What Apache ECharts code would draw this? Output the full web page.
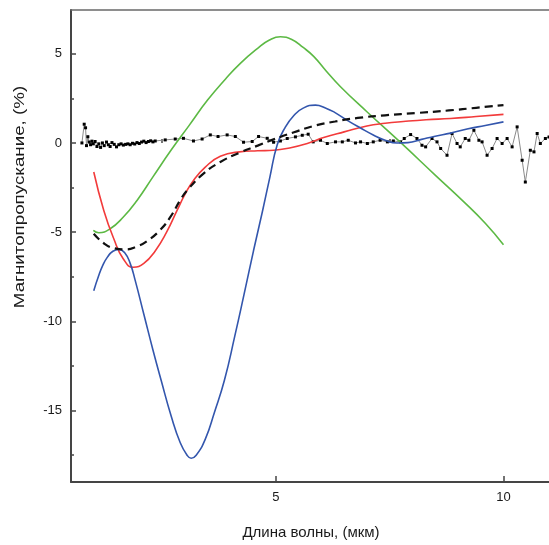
<!DOCTYPE html>
<html>
<head>
<meta charset="utf-8">
<script src="https://cdn.jsdelivr.net/npm/echarts@6/dist/echarts.min.js"></script>
<style>
  html, body { margin: 0; padding: 0; background: #fff; overflow: hidden; }
  #chart { width: 549px; height: 545px; }
</style>
</head>
<body>
<div id="chart"></div>
<script>
// ---- data (x: wavelength, µm; y: magnetotransmission, %) ----
const xMajorTicks = [5, 10];
const xMinorTicks = [2.5, 7.5];
const yMajorTicks = [-15, -10, -5, 0, 5];
const yMinorTicks = [-17.5, -12.5, -7.5, -2.5, 2.5];

const xTitle = 'Длина волны, (мкм)';
const yTitle = 'Магнитопропускание, (%)';

const greenCurve = [
  [0.99,-4.9],[1.11,-5.03],[1.36,-4.81],[1.65,-4.15],[1.95,-3.22],[2.3,-1.9],[2.7,-0.4],
  [3.1,1.0],[3.5,2.4],[3.9,3.6],[4.22,4.46],[4.6,5.3],[4.85,5.75],[5.1,5.95],[5.35,5.8],
  [5.6,5.35],[5.83,4.85],[6.1,4.05],[6.42,3.15],[7.0,1.75],[7.75,0.0],[8.5,-1.8],
  [9.13,-3.3],[9.6,-4.5],[10.0,-5.7]
];

const blueCurve = [
  [1.0,-8.28],[1.1,-7.5],[1.2,-6.85],[1.3,-6.4],[1.42,-6.07],[1.55,-5.97],[1.68,-6.15],
  [1.8,-6.75],[1.91,-7.7],[2.1,-9.6],[2.3,-11.6],[2.48,-13.3],[2.7,-15.3],[2.9,-16.8],
  [3.05,-17.5],[3.14,-17.67],[3.25,-17.5],[3.45,-16.6],[3.65,-15.1],[3.87,-13.3],
  [4.1,-10.8],[4.3,-8.5],[4.51,-6.03],[4.7,-3.9],[4.87,-1.9],[5.03,-0.1],[5.2,0.85],
  [5.4,1.55],[5.6,1.95],[5.87,2.12],[6.1,1.95],[6.3,1.7],[6.56,1.28],[6.85,0.85],
  [7.15,0.43],[7.4,0.15],[7.66,0.0],[7.9,0.02],[8.2,0.2],[8.5,0.38],[8.84,0.55],
  [9.2,0.78],[9.6,0.98],[10.0,1.18]
];

const redCurve = [
  [1.0,-1.63],[1.22,-3.78],[1.44,-5.37],[1.65,-6.5],[1.87,-6.97],[2.1,-6.75],[2.35,-6.05],
  [2.6,-5.0],[2.83,-3.78],[3.0,-2.9],[3.19,-2.1],[3.45,-1.35],[3.78,-0.75],[4.2,-0.5],
  [4.6,-0.44],[4.95,-0.41],[5.3,-0.28],[5.69,-0.03],[6.05,0.3],[6.5,0.62],[7.0,0.95],
  [7.4,1.1],[7.8,1.2],[8.3,1.3],[8.84,1.37],[9.4,1.48],[10.0,1.6]
];

const dashedCurve = [
  [1.0,-5.09],[1.22,-5.62],[1.45,-5.9],[1.69,-5.97],[1.95,-5.8],[2.17,-5.5],[2.45,-4.9],
  [2.68,-4.16],[2.9,-3.2],[3.05,-2.66],[3.41,-1.72],[3.78,-1.07],[4.2,-0.55],[4.6,-0.15],
  [4.95,0.2],[5.4,0.6],[5.83,0.95],[6.3,1.2],[6.8,1.4],[7.4,1.55],[8.1,1.68],[8.8,1.82],
  [9.4,1.97],[10.0,2.12]
];

const measured = [
  [0.74,0.0],[0.79,1.05],[0.82,0.85],[0.84,-0.15],[0.87,0.35],[0.90,0.05],[0.93,-0.1],
  [0.96,0.1],[0.99,-0.05],[1.03,0.08],[1.07,-0.2],[1.11,-0.05],[1.15,-0.25],[1.19,0.0],
  [1.23,-0.15],[1.28,0.05],[1.32,-0.1],[1.36,-0.2],[1.40,0.02],[1.45,-0.08],[1.50,-0.22],
  [1.55,-0.1],[1.60,-0.05],[1.65,-0.12],[1.70,-0.08],[1.75,-0.05],[1.80,-0.1],[1.85,-0.02],
  [1.90,-0.06],[1.95,0.02],[2.00,-0.03],[2.05,0.05],[2.10,0.1],[2.15,0.02],[2.20,0.08],
  [2.25,0.12],[2.30,0.06],
  [2.35,0.11],[2.57,0.17],[2.79,0.22],[2.97,0.26],[3.19,0.11],[3.38,0.22],[3.56,0.45],
  [3.73,0.36],[3.93,0.45],[4.11,0.36],[4.29,0.04],[4.48,0.08],[4.62,0.36],[4.81,0.26],
  [4.95,0.04],[5.1,0.11],[5.25,0.25],[5.43,0.34],[5.58,0.43],[5.71,0.49],[5.82,0.06],
  [5.98,0.15],[6.13,-0.03],[6.31,0.06],[6.46,0.06],[6.59,0.15],[6.75,0.0],[6.86,0.06],
  [7.01,-0.03],[7.14,0.06],[7.29,0.15],[7.45,0.06],[7.58,0.11],[7.74,0.06],
  [7.82,0.25],[7.96,0.47],[8.10,0.25],[8.21,-0.13],[8.29,-0.22],[8.43,0.25],[8.54,0.06],
  [8.62,-0.31],[8.76,-0.69],[8.87,0.53],[8.98,-0.03],[9.05,-0.22],[9.16,0.25],[9.24,0.15],
  [9.35,0.71],[9.46,0.15],[9.53,0.06],[9.64,-0.69],[9.75,-0.31],[9.86,0.25],[9.97,-0.03],
  [10.08,0.25],[10.19,-0.22],[10.3,0.9],[10.41,-0.97],[10.48,-2.19],[10.59,-0.41],
  [10.67,-0.5],[10.74,0.53],[10.81,-0.03],[10.92,0.25],[11.0,0.34]
];

// ---- chart ----
const X_MIN = 0.5, X_MAX = 11.0, Y_MIN = -19, Y_MAX = 7.45;
const FONT = 'Liberation Sans, Arial, sans-serif';
const AXIS_COLOR = '#454545';

const chart = echarts.init(document.getElementById('chart'), null, { renderer: 'canvas' });

function baseX(extra) {
  return Object.assign({
    type: 'value', min: X_MIN, max: X_MAX, gridIndex: 0,
    splitLine: { show: false }
  }, extra);
}
function baseY(extra) {
  return Object.assign({
    type: 'value', min: Y_MIN, max: Y_MAX, gridIndex: 0,
    splitLine: { show: false }
  }, extra);
}

chart.setOption({
  animation: false,
  backgroundColor: '#ffffff',
  grid: { left: 71, right: 0, top: 10, bottom: 63, containLabel: false },
  xAxis: [
    baseX({
      position: 'bottom', offset: 0,
      axisLine: { show: true, onZero: false, lineStyle: { color: AXIS_COLOR, width: 2 } },
      axisTick: { show: true, inside: true, length: 6, customValues: xMajorTicks,
                  lineStyle: { color: AXIS_COLOR, width: 1.5 } },
      axisLabel: { show: true, customValues: xMajorTicks, color: '#1a1a1a',
                   fontSize: 13, fontFamily: FONT, margin: 9 }
    }),
    baseX({
      position: 'bottom', offset: 0,
      axisLine: { show: false },
      axisTick: { show: true, inside: true, length: 4, customValues: xMinorTicks,
                  lineStyle: { color: AXIS_COLOR, width: 1.5 } },
      axisLabel: { show: false }
    }),
    baseX({
      position: 'top', offset: 0,
      axisLine: { show: true, onZero: false, lineStyle: { color: '#6a6a6a', width: 1.5 } },
      axisTick: { show: false },
      axisLabel: { show: false }
    })
  ],
  yAxis: [
    baseY({
      position: 'left', offset: 0,
      axisLine: { show: true, onZero: false, lineStyle: { color: AXIS_COLOR, width: 2 } },
      axisTick: { show: true, inside: true, length: 5, customValues: yMajorTicks,
                  lineStyle: { color: AXIS_COLOR, width: 1.5 } },
      axisLabel: { show: true, customValues: yMajorTicks, color: '#1a1a1a',
                   fontSize: 13, fontFamily: FONT, margin: 9 }
    }),
    baseY({
      position: 'left', offset: 0,
      axisLine: { show: false },
      axisTick: { show: true, inside: true, length: 3, customValues: yMinorTicks,
                  lineStyle: { color: AXIS_COLOR, width: 1.5 } },
      axisLabel: { show: false }
    })
  ],
  graphic: [
    { type: 'text', x: 311, y: 533,
      style: { text: xTitle, font: '15px ' + FONT, fill: '#1a1a1a',
               textAlign: 'center', textVerticalAlign: 'middle' } },
    { type: 'text', x: 20, y: 197, rotation: Math.PI / 2, scaleX: 1.25,
      style: { text: yTitle, font: '15px ' + FONT, fill: '#1a1a1a',
               textAlign: 'center', textVerticalAlign: 'middle' } }
  ],
  series: [
    { name: 'measured', type: 'line', data: measured, xAxisIndex: 0, yAxisIndex: 0,
      symbol: 'rect', symbolSize: 3, showSymbol: true,
      itemStyle: { color: '#000000' },
      lineStyle: { color: '#8a8a8a', width: 1 }, z: 2 },
    { name: 'green', type: 'line', data: greenCurve, smooth: true, showSymbol: false,
      lineStyle: { color: '#5cb944', width: 1.6 }, z: 3 },
    { name: 'red', type: 'line', data: redCurve, smooth: true, showSymbol: false,
      lineStyle: { color: '#f23b3b', width: 1.6 }, z: 3 },
    { name: 'blue', type: 'line', data: blueCurve, smooth: true, showSymbol: false,
      lineStyle: { color: '#3356ad', width: 1.6 }, z: 3 },
    { name: 'dashed', type: 'line', data: dashedCurve, smooth: true, showSymbol: false,
      lineStyle: { color: '#111111', width: 2.2, type: [8, 5] }, z: 4 }
  ]
});
</script>
</body>
</html>
